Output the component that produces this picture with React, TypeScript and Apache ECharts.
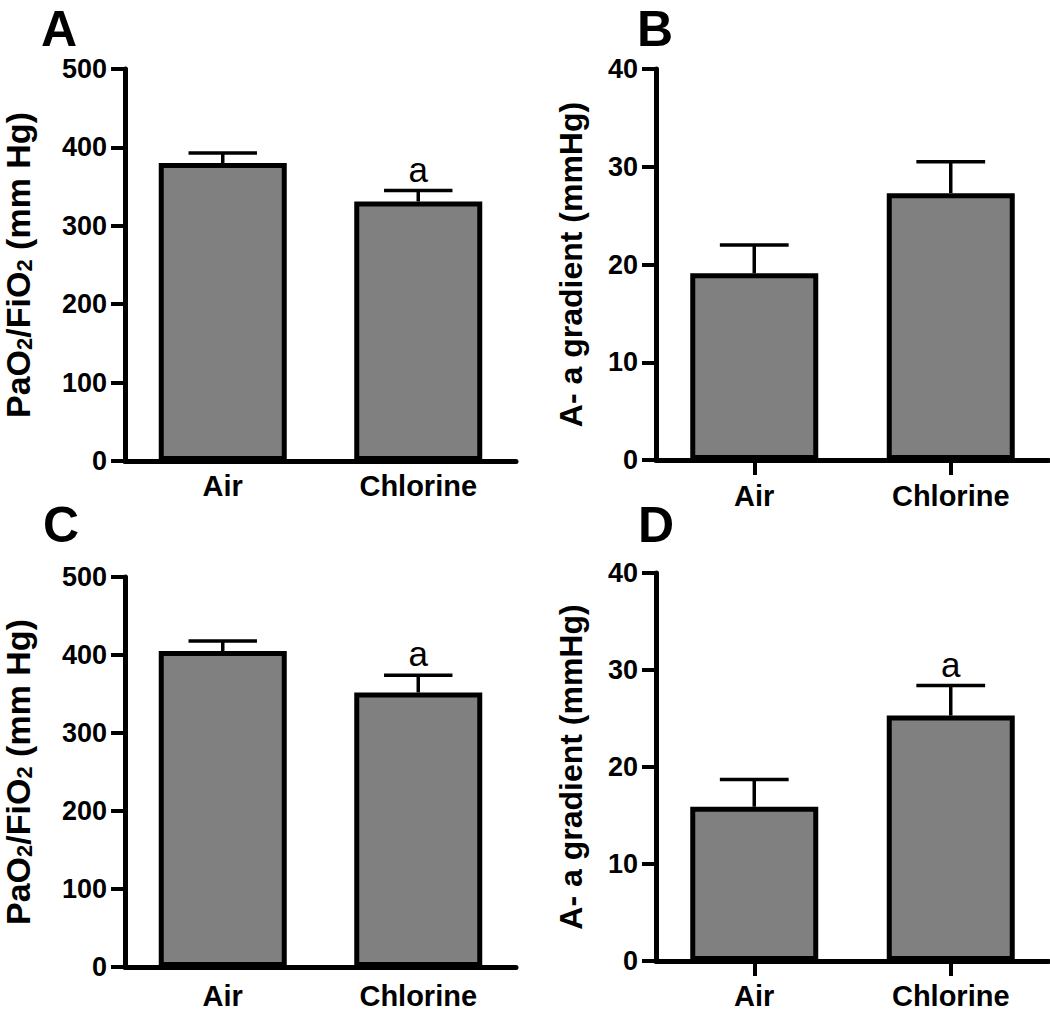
import React, { useEffect, useRef } from 'react';
import * as echarts from 'echarts';

// ---- data ----
const categories = ['Air', 'Chlorine'];

const meansA = [380, 331];
const semA = [13, 14];
const sigA = ['', 'a'];

const meansB = [19.1, 27.3];
const semB = [2.9, 3.2];
const sigB = ['', ''];

const meansC = [405, 352];
const semC = [13, 22];
const sigC = ['', 'a'];

const meansD = [15.9, 25.3];
const semD = [2.8, 3.1];
const sigD = ['', 'a'];

const ratioAxis = { max: 500, interval: 100 };
const gradientAxis = { max: 40, interval: 10 };

const panelLetters = ['A', 'B', 'C', 'D'];

// ---- styling ----
const FONT = 'Liberation Sans, Arial, Helvetica, sans-serif';
const BLACK = '#000000';
const BAR_FILL = '#808080';

const ratioName = '{n|PaO}{s|2}{n|/FiO}{s|2}{n| (mm Hg)}';
const gradientName = 'A- a gradient (mmHg)';

const panels = [
  { letter: panelLetters[0], grid: { left: 124, top: 69, width: 392, height: 392 }, means: meansA, sem: semA, sig: sigA, axis: ratioAxis, name: ratioName, nameGap: 90, xTicks: false, xMargin: 10, letterPos: [41, 4] },
  { letter: panelLetters[1], grid: { left: 656, top: 69, width: 393, height: 391 }, means: meansB, sem: semB, sig: sigB, axis: gradientAxis, name: gradientName, nameGap: 69, xTicks: true, xMargin: 21, letterPos: [637, 4] },
  { letter: panelLetters[2], grid: { left: 124, top: 577, width: 392, height: 390 }, means: meansC, sem: semC, sig: sigC, axis: ratioAxis, name: ratioName, nameGap: 90, xTicks: false, xMargin: 14, letterPos: [43, 500] },
  { letter: panelLetters[3], grid: { left: 656, top: 573, width: 393, height: 391 }, means: meansD, sem: semD, sig: sigD, axis: gradientAxis, name: gradientName, nameGap: 69, xTicks: true, xMargin: 20, letterPos: [638, 500] },
];

function buildOption() {
  const grid: any[] = [];
  const xAxis: any[] = [];
  const yAxis: any[] = [];
  const series: any[] = [];
  const graphic: any[] = [];

  panels.forEach((p, i) => {
    grid.push({ ...p.grid, containLabel: false });
    xAxis.push({
      type: 'category',
      gridIndex: i,
      data: categories,
      axisLine: { show: true, lineStyle: { color: BLACK, width: 5 } },
      axisTick: { show: p.xTicks, alignWithLabel: true, length: 15, lineStyle: { color: BLACK, width: 4 } },
      axisLabel: { color: BLACK, fontFamily: FONT, fontWeight: 'bold', fontSize: 29, margin: p.xMargin },
      splitLine: { show: false },
    });
    yAxis.push({
      type: 'value',
      gridIndex: i,
      min: 0,
      max: p.axis.max,
      interval: p.axis.interval,
      name: p.name,
      nameLocation: 'middle',
      nameRotate: 90,
      nameGap: p.nameGap,
      nameTextStyle: {
        color: BLACK,
        fontFamily: FONT,
        fontWeight: 'bold',
        fontSize: 32,
        rich: {
          n: { fontFamily: FONT, fontWeight: 'bold', fontSize: 34, color: BLACK, lineHeight: 34, verticalAlign: 'top' },
          s: { fontFamily: FONT, fontWeight: 'bold', fontSize: 22, color: BLACK, lineHeight: 22, verticalAlign: 'bottom', padding: [12, 0, 0, 0] },
        },
      },
      axisLine: { show: true, lineStyle: { color: BLACK, width: 5 } },
      axisTick: { show: true, length: 14, lineStyle: { color: BLACK, width: 4 } },
      axisLabel: { color: BLACK, fontFamily: FONT, fontWeight: 'bold', fontSize: 27, margin: 18 },
      splitLine: { show: false },
    });
    series.push({
      type: 'bar',
      xAxisIndex: i,
      yAxisIndex: i,
      data: p.means,
      barWidth: 128,
      itemStyle: { color: BAR_FILL, borderColor: BLACK, borderWidth: 5 },
      z: 2,
    });
    const sig = p.sig;
    series.push({
      type: 'custom',
      xAxisIndex: i,
      yAxisIndex: i,
      z: 3,
      data: p.means.map((m, k) => [k, m, m + p.sem[k]]),
      renderItem: (params: any, api: any) => {
        const ci = api.value(0);
        const p0 = api.coord([ci, api.value(1)]);
        const p1 = api.coord([ci, api.value(2)]);
        const half = api.size([1, 0])[0] * 0.175;
        const children: any[] = [
          { type: 'line', shape: { x1: p0[0], y1: p0[1], x2: p1[0], y2: p1[1] }, style: { stroke: BLACK, lineWidth: 3.5 } },
          { type: 'line', shape: { x1: p0[0] - half, y1: p1[1], x2: p0[0] + half, y2: p1[1] }, style: { stroke: BLACK, lineWidth: 3.5 } },
        ];
        const s = sig[params.dataIndex];
        if (s) {
          children.push({
            type: 'text',
            x: p0[0],
            y: p1[1] - 4,
            style: { text: s, fontFamily: FONT, fontSize: 35, fill: BLACK, align: 'center', verticalAlign: 'bottom' },
          });
        }
        return { type: 'group', children };
      },
    });
    graphic.push({
      type: 'text',
      left: p.letterPos[0],
      top: p.letterPos[1],
      style: { text: p.letter, fontFamily: FONT, fontWeight: 'bold', fontSize: 50, fill: BLACK },
    });
  });

  return {
    animation: false,
    backgroundColor: '#ffffff',
    grid,
    xAxis,
    yAxis,
    series,
    graphic,
  };
}

export default function App() {
  const ref = useRef<HTMLDivElement>(null);
  useEffect(() => {
    if (!ref.current) return;
    const chart = echarts.init(ref.current, undefined, { renderer: 'svg' });
    chart.setOption(buildOption() as any);
    return () => chart.dispose();
  }, []);
  return (
    <div
      ref={ref}
      style={{ position: 'absolute', left: 0, top: 0, width: 1050, height: 1010, background: '#fff' }}
    />
  );
}
